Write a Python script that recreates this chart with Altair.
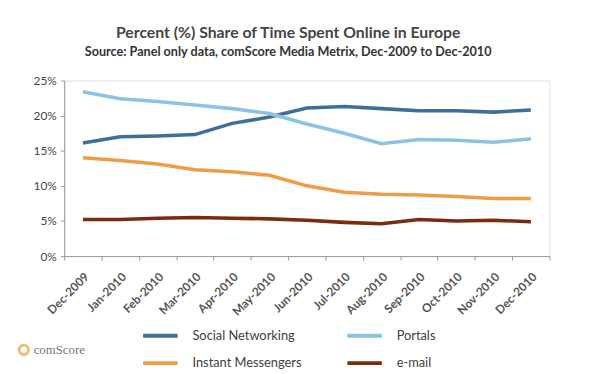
import altair as alt
import pandas as pd

months = ["Dec-2009", "Jan-2010", "Feb-2010", "Mar-2010", "Apr-2010", "May-2010", "Jun-2010",
          "Jul-2010", "Aug-2010", "Sep-2010", "Oct-2010", "Nov-2010", "Dec-2010"]
social = [16.1, 17.0, 17.1, 17.3, 18.9, 19.8, 21.1, 21.3, 21.0, 20.7, 20.7, 20.5, 20.8]
portals = [23.4, 22.4, 22.0, 21.5, 21.0, 20.3, 18.8, 17.5, 16.0, 16.6, 16.5, 16.2, 16.7]
im = [14.0, 13.6, 13.1, 12.3, 12.0, 11.5, 10.0, 9.1, 8.8, 8.7, 8.5, 8.2, 8.2]
email = [5.2, 5.2, 5.4, 5.5, 5.4, 5.3, 5.1, 4.8, 4.6, 5.2, 5.0, 5.1, 4.9]

series_names = ["Social Networking", "Portals", "Instant Messengers", "e-mail"]
series_colors = ["#3f6e98", "#8cc3e4", "#ee9d45", "#7a2b10"]

rows = []
for name, vals in zip(series_names, [social, portals, im, email]):
    for m, v in zip(months, vals):
        rows.append({"month": m, "series": name, "value": v})
df = pd.DataFrame(rows)

FONT = "Lato"

lines = alt.Chart(df).mark_line(strokeWidth=3.6).encode(
    x=alt.X("month:O", sort=months, title=None,
            scale=alt.Scale(paddingInner=0, paddingOuter=0),
            axis=alt.Axis(labelAngle=-45, tickBand="extent", labelFont=FONT, labelFontSize=12,
                          labelFontWeight="bold", labelColor="#555555", domainColor="#999999",
                          tickColor="#999999", tickSize=4, labelPadding=11)),
    y=alt.Y("value:Q", title=None, scale=alt.Scale(domain=[0, 25]),
            axis=alt.Axis(values=[0, 5, 10, 15, 20, 25], labelExpr="datum.value + '%'", grid=False,
                          labelFont=FONT, labelFontSize=12, labelColor="#444444",
                          domainColor="#999999", tickColor="#999999", tickSize=4, labelPadding=4)),
    color=alt.Color("series:N", sort=series_names,
                    scale=alt.Scale(domain=series_names, range=series_colors),
                    legend=alt.Legend(title=None, orient="none", legendX=78, legendY=239,
                                      columns=2, direction="horizontal",
                                      symbolType="stroke", symbolSize=1225,
                                      symbolStrokeWidth=4, columnPadding=38, rowPadding=-9,
                                      labelFont=FONT, labelFontSize=13, labelColor="#404040",
                                      labelOffset=13, labelLimit=200)),
)

logo = alt.Chart(pd.DataFrame({"t": ["comScore"]})).mark_text(
    font="Liberation Serif", fontSize=13, color="#777777", align="left", baseline="middle"
).encode(text="t:N", x=alt.value(-31), y=alt.value(273))

logo_a = alt.Chart(pd.DataFrame({"t": ["a"]})).mark_point(
    shape="circle", size=90, filled=False, strokeWidth=3, color="#e8a030"
).encode(x=alt.value(-41), y=alt.value(273))

chart = alt.layer(lines, logo_a, logo).properties(
    width=492, height=178,
    autosize=alt.AutoSizeParams(type="none"),
    padding={"left": 57, "top": 71, "right": 38, "bottom": 117},
    title=alt.TitleParams(
        "Percent (%) Share of Time Spent Online in Europe",
        subtitle="Source: Panel only data, comScore Media Metrix, Dec-2009 to Dec-2010",
        font=FONT, fontSize=16, fontWeight="bold", color="#454545",
        subtitleFont=FONT, subtitleFontSize=12.8, subtitleFontWeight="bold", subtitleColor="#333333",
        anchor="middle", dx=-19, offset=16, subtitlePadding=5,
    ),
).configure_view(stroke=None).configure(background="white")

chart.save("out.html", embed_options={"renderer": "svg", "actions": False})
